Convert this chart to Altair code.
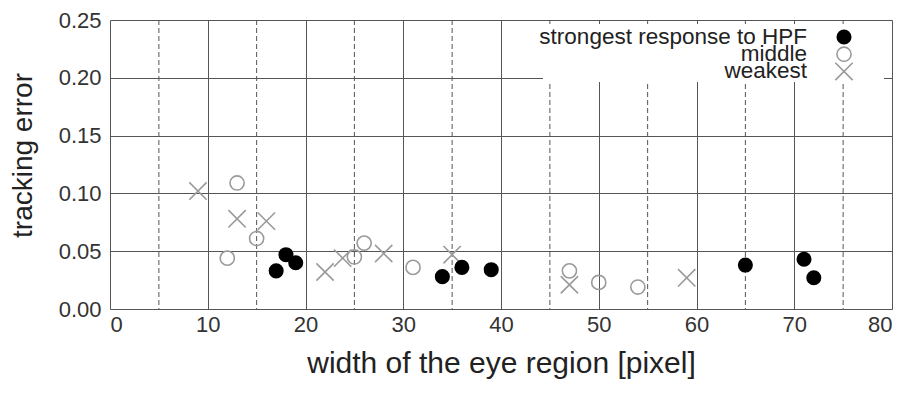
import altair as alt
import pandas as pd

# ---- data ----
strong_x = [17, 18, 19, 34, 36, 39, 65, 71, 72]
strong_y = [0.033, 0.047, 0.040, 0.028, 0.036, 0.034, 0.038, 0.043, 0.027]

middle_x = [12, 13, 15, 25, 26, 31, 47, 50, 54]
middle_y = [0.044, 0.109, 0.061, 0.045, 0.057, 0.036, 0.033, 0.023, 0.019]

weak_x = [9, 13, 16, 22, 23.8, 28, 35, 47, 59]
weak_y = [0.102, 0.078, 0.076, 0.032, 0.044, 0.048, 0.047, 0.021, 0.027]

x_ticks = [0, 10, 20, 30, 40, 50, 60, 70, 80]
x_minor = [5, 15, 25, 35, 45, 55, 65, 75]
y_ticks = [0.0, 0.05, 0.10, 0.15, 0.20, 0.25]

legend_labels = ["strongest response to HPF", "middle", "weakest"]

FONT = "Liberation Sans"
GRID = "#555555"
GRAY = "#9a9a9a"
XSHAPE = "M-1,-1L1,1M-1,1L1,-1"

W, H = 782, 289

strong = pd.DataFrame({"x": strong_x, "y": strong_y})
middle = pd.DataFrame({"x": middle_x, "y": middle_y})
weak = pd.DataFrame({"x": weak_x, "y": weak_y})
minor = pd.DataFrame({"x": x_minor})

xscale = alt.Scale(domain=[0, 80], nice=False, zero=False)
yscale = alt.Scale(domain=[0, 0.25], nice=False, zero=False)

xaxis = alt.Axis(values=x_ticks, grid=True, gridColor=GRID, gridWidth=1, gridOpacity=1,
                 domain=False, ticks=False, labelFont=FONT, labelFontSize=22,
                 labelColor="#333333", labelPadding=5,
                 title="width of the eye region [pixel]", titleFont=FONT,
                 titleFontSize=30, titleFontWeight="normal", titleColor="#222222",
                 titleX=W / 2, titleY=63, titleAlign="center", titleBaseline="alphabetic")
yaxis = alt.Axis(values=y_ticks, format=".2f", grid=True, gridColor=GRID, gridWidth=1,
                 gridOpacity=1, domain=False, ticks=False, labelFont=FONT, labelFontSize=22,
                 labelColor="#333333", labelPadding=9,
                 title="tracking error", titleFont=FONT, titleFontSize=28,
                 titleFontWeight="normal", titleColor="#222222",
                 titleX=-87, titleY=135, titleAlign="center", titleBaseline="middle")

dashed = alt.Chart(minor).mark_rule(color=GRID, strokeWidth=1, strokeDash=[5, 3]).encode(
    x=alt.X("x:Q", scale=xscale, axis=xaxis)
)

p_strong = alt.Chart(strong).mark_point(shape="circle", filled=True, color="#000000",
                                        size=227, opacity=1).encode(
    x=alt.X("x:Q", scale=xscale), y=alt.Y("y:Q", scale=yscale, axis=yaxis)
)
p_middle = alt.Chart(middle).mark_point(shape="circle", filled=False, color=GRAY,
                                        size=200, strokeWidth=1.6, opacity=1).encode(
    x=alt.X("x:Q", scale=xscale), y=alt.Y("y:Q", scale=yscale)
)
p_weak = alt.Chart(weak).mark_point(shape=XSHAPE, filled=False, color=GRAY,
                                    size=300, strokeWidth=1.6, opacity=1).encode(
    x=alt.X("x:Q", scale=xscale), y=alt.Y("y:Q", scale=yscale)
)

legend_box = alt.Chart(pd.DataFrame({"a": [0]})).mark_rect(fill="white", stroke=None).encode(
    x=alt.value(433), x2=alt.value(774), y=alt.value(4), y2=alt.value(62)
)

leg_layers = []
leg_styles = [
    dict(shape="circle", filled=True, color="#000000", size=227, opacity=1),
    dict(shape="circle", filled=False, color=GRAY, size=200, strokeWidth=1.6, opacity=1),
    dict(shape=XSHAPE, filled=False, color=GRAY, size=300, strokeWidth=1.6, opacity=1),
]
for i, lab in enumerate(legend_labels):
    ypix = 17 + 17.2 * i
    ldf = pd.DataFrame({"label": [lab]})
    leg_layers.append(
        alt.Chart(ldf).mark_text(align="right", baseline="middle", font=FONT, fontSize=22.5,
                                 color="#222222").encode(
            x=alt.value(697), y=alt.value(ypix), text="label:N")
    )
    leg_layers.append(
        alt.Chart(ldf).mark_point(**leg_styles[i]).encode(x=alt.value(734), y=alt.value(ypix))
    )

chart = alt.layer(dashed, p_middle, p_weak, p_strong, legend_box, *leg_layers).properties(
    width=W, height=H,
    autosize=alt.AutoSizeParams(type="none"),
    padding={"left": 110, "top": 20, "right": 20, "bottom": 84},
).configure_view(stroke="#555555", strokeWidth=1.5).configure(background="white")

chart.save("out.html", embed_options={"renderer": "svg", "actions": False})
